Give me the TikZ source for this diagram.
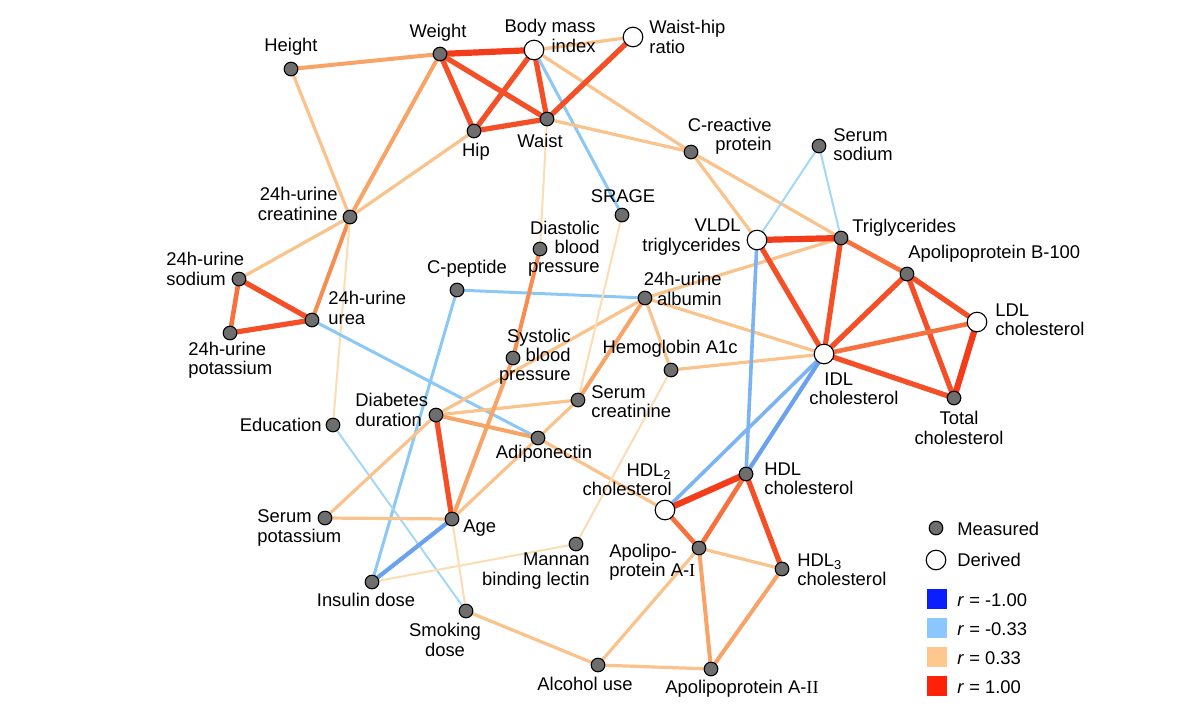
\documentclass[tikz,border=0pt]{standalone}
\usepackage{fontspec}
\setmainfont{Liberation Sans}
\newfontfamily\serifI{Liberation Serif}
\usetikzlibrary{backgrounds}
\definecolor{cRA}{HTML}{F33C1A}
\definecolor{cRB}{HTML}{F44F27}
\definecolor{cOR}{HTML}{F6713D}
\definecolor{cOO}{HTML}{F68E52}
\definecolor{cOM}{HTML}{F8A466}
\definecolor{cOL}{HTML}{FAC38C}
\definecolor{cOV}{HTML}{FCDCB2}
\definecolor{cBV}{HTML}{A4D8F6}
\definecolor{cBL}{HTML}{8CC8F6}
\definecolor{cBN}{HTML}{7CB4F2}
\definecolor{cBM}{HTML}{6AA2EE}
\definecolor{msgray}{HTML}{6E6E6E}
\definecolor{lgBlue}{HTML}{0A1EFF}
\definecolor{lgLBlue}{HTML}{8CC6FF}
\definecolor{lgLOr}{HTML}{FFC68E}
\definecolor{lgRed}{HTML}{FF2208}
\begin{document}
\begin{tikzpicture}[x=0.5pt,y=-0.5pt,
  meas/.style={circle,draw=black,fill=msgray,line width=0.55pt,minimum size=6.8pt,inner sep=0pt},
  deriv/.style={circle,draw=black,fill=white,line width=0.55pt,minimum size=9.8pt,inner sep=0pt},
  lab/.style={inner sep=0pt,font=\fontsize{9.2}{9.6}\selectfont},
  lgsq/.style={rectangle,minimum size=10pt,inner sep=0pt},
  eRA/.style={draw=cRA,line width=3.1pt},
  eRB/.style={draw=cRB,line width=2.6pt},
  eOR/.style={draw=cOR,line width=2.3pt},
  eOO/.style={draw=cOO,line width=2pt},
  eOM/.style={draw=cOM,line width=2pt},
  eOL/.style={draw=cOL,line width=1.6pt},
  eOV/.style={draw=cOV,line width=1pt},
  eBV/.style={draw=cBV,line width=1pt},
  eBL/.style={draw=cBL,line width=1.5pt},
  eBN/.style={draw=cBN,line width=1.8pt},
  eBM/.style={draw=cBM,line width=2.1pt}]
\useasboundingbox (0,0) rectangle (1200,709);
% nodes
\node[meas] (height) at (291,69) {};
\node[meas] (weight) at (440,54) {};
\node[deriv] (bmi) at (534,50) {};
\node[deriv] (whr) at (633,37) {};
\node[meas] (hip) at (474,131) {};
\node[meas] (waist) at (547,119) {};
\node[meas] (crp) at (691,152) {};
\node[meas] (ssod) at (819,146) {};
\node[meas] (srage) at (622,215) {};
\node[meas] (ucre) at (350,217) {};
\node[meas] (dbp) at (540,249) {};
\node[deriv] (vldl) at (757,240) {};
\node[meas] (tri) at (841,238) {};
\node[meas] (apob) at (907,274) {};
\node[meas] (usod) at (239,279) {};
\node[meas] (cpep) at (457,290) {};
\node[meas] (ualb) at (645,298) {};
\node[meas] (uurea) at (312,320) {};
\node[meas] (upot) at (230,333) {};
\node[deriv] (ldl) at (977,322) {};
\node[deriv] (idl) at (824,354) {};
\node[meas] (sbp) at (513,358) {};
\node[meas] (hba) at (671,370) {};
\node[meas] (screa) at (578,400) {};
\node[meas] (diab) at (436,415) {};
\node[meas] (educ) at (333,425) {};
\node[meas] (tchol) at (954,398) {};
\node[meas] (adipo) at (538,438) {};
\node[meas] (hdl) at (746,474) {};
\node[deriv] (hdltwo) at (665,510) {};
\node[meas] (spot) at (325,518) {};
\node[meas] (age) at (452,519) {};
\node[meas] (mbl) at (576,544) {};
\node[meas] (apoa) at (699,548) {};
\node[meas] (hdlthree) at (782,569) {};
\node[meas] (insul) at (372,582) {};
\node[meas] (smok) at (466,611) {};
\node[meas] (alc) at (598,665) {};
\node[meas] (apoaii) at (711,669) {};
% labels
\node[lab] (lheight) at (291,47) {Height};
\node[lab] (lweight) at (438,33) {Weight};
\node[lab,anchor=east,align=right] (lbmi) at (596,36) {Body mass\\index};
\node[lab,anchor=west,align=left] (lwhr) at (649,37) {Waist-hip\\ratio};
\node[lab] (lhip) at (476,152) {Hip};
\node[lab] (lwaist) at (540,141) {Waist};
\node[lab,anchor=east,align=right] (lcrp) at (772,136) {C-reactive\\protein};
\node[lab,anchor=west,align=left] (lssod) at (833,145) {Serum\\sodium};
\node[lab] (lsrage) at (623,196) {SRAGE};
\node[lab,anchor=east,align=right] (lucre) at (338,204) {24h-urine\\creatinine};
\node[lab,anchor=east,align=right] (ldbp) at (600,249) {Diastolic\\blood\\pressure};
\node[lab,anchor=east,align=right] (lvldl) at (741,237) {VLDL\\triglycerides};
\node[lab,anchor=west] (ltri) at (852,228) {Triglycerides};
\node[lab,anchor=west] (lapob) at (908,254) {Apolipoprotein B-100};
\node[lab,anchor=west,align=left] (lusod) at (166,269) {24h-urine\\sodium};
\node[lab] (lcpep) at (467,269) {C-peptide};
\node[lab,anchor=east,align=right] (lualb) at (722,289) {24h-urine\\albumin};
\node[lab,anchor=west,align=left] (luurea) at (328,308) {24h-urine\\urea};
\node[lab,anchor=west,align=left] (lupot) at (188,360) {24h-urine\\potassium};
\node[lab,anchor=west,align=left] (lldl) at (995,320) {LDL\\cholesterol};
\node[lab,anchor=west,align=left] (lidl) at (809,389) {\hspace*{7.5pt}IDL\\cholesterol};
\node[lab,anchor=east,align=right] (lsbp) at (571,357) {Systolic\\blood\\pressure};
\node[lab] (lhba) at (670,349) {Hemoglobin A1c};
\node[lab,anchor=west,align=left] (lscrea) at (591,402) {Serum\\creatinine};
\node[lab,anchor=west,align=left] (ldiab) at (355,410) {Diabetes\\duration};
\node[lab,anchor=east] (leduc) at (322,425) {Education};
\node[lab,align=center] (ltchol) at (959,428) {Total\\cholesterol};
\node[lab] (ladipo) at (544,454) {Adiponectin};
\node[lab,anchor=west,align=left] (lhdl) at (764,479) {HDL\\cholesterol};
\node[lab,anchor=east,align=right] (lhdltwo) at (672,480) {HDL\textsubscript{2}\\cholesterol};
\node[lab,anchor=west,align=left] (lspot) at (257,528) {Serum\\potassium};
\node[lab,anchor=west] (lage) at (463,528) {Age};
\node[lab,anchor=east,align=right] (lmbl) at (590,571) {Mannan\\binding lectin};
\node[lab,anchor=west,align=left] (lapoa) at (609,562) {Apolipo-\\protein A-{\serifI I}};
\node[lab,anchor=west,align=left] (lhdlthree) at (797,570) {HDL\textsubscript{3}\\cholesterol};
\node[lab] (linsul) at (366,600) {Insulin dose};
\node[lab,align=center] (lsmok) at (445,640) {Smoking\\dose};
\node[lab] (lalc) at (585,684) {Alcohol use};
\node[lab] (lapoaii) at (742,689) {Apolipoprotein A-{\serifI II}};
% legend
\node[meas] (lgm) at (936,528) {};
\node[lab,anchor=west] (lgmt) at (957,529) {Measured};
\node[deriv] (lgd) at (936,560) {};
\node[lab,anchor=west] (lgdt) at (957,560) {Derived};
\node[lgsq,fill=lgBlue] (lga) at (937,599) {};
\node[lab,anchor=west] (lgat) at (957,600) {\textit{r} = -1.00};
\node[lgsq,fill=lgLBlue] (lgb) at (937,628) {};
\node[lab,anchor=west] (lgbt) at (957,629) {\textit{r} = -0.33};
\node[lgsq,fill=lgLOr] (lgc) at (937,657) {};
\node[lab,anchor=west] (lgct) at (957,658) {\textit{r} = 0.33};
\node[lgsq,fill=lgRed] (lgdd) at (937,686) {};
\node[lab,anchor=west] (lgddt) at (957,687) {\textit{r} = 1.00};
% edges
\begin{pgfonlayer}{background}
\fill[white] (0,0) rectangle (1200,709);
\draw[eOM] (height.center) -- (weight.center);
\draw[eOL] (height.center) -- (ucre.center);
\draw[eOM] (weight.center) -- (ucre.center);
\draw[eOL] (hip.center) -- (ucre.center);
\draw[eRA] (weight.center) -- (bmi.center);
\draw[eRB] (weight.center) -- (hip.center);
\draw[eRB] (weight.center) -- (waist.center);
\draw[eRB] (bmi.center) -- (hip.center);
\draw[eRB] (bmi.center) -- (waist.center);
\draw[eOL] (bmi.center) -- (whr.center);
\draw[eBL] (bmi.center) -- (srage.center);
\draw[eOL] (bmi.center) -- (crp.center);
\draw[eRB] (waist.center) -- (hip.center);
\draw[eRB] (waist.center) -- (whr.center);
\draw[eOL] (waist.center) -- (crp.center);
\draw[eOV] (waist.center) -- (dbp.center);
\draw[eOL] (ucre.center) -- (usod.center);
\draw[eOO] (ucre.center) -- (uurea.center);
\draw[eOV] (ucre.center) -- (educ.center);
\draw[eRB] (usod.center) -- (uurea.center);
\draw[eOR] (usod.center) -- (upot.center);
\draw[eRB] (upot.center) -- (uurea.center);
\draw[eBL] (uurea.center) -- (adipo.center);
\draw[eBL] (cpep.center) -- (ualb.center);
\draw[eBL] (cpep.center) -- (insul.center);
\draw[eBV] (educ.center) -- (smok.center);
\draw[eOL] (diab.center) -- (ualb.center);
\draw[eOL] (diab.center) -- (screa.center);
\draw[eOM] (diab.center) -- (adipo.center);
\draw[eRB] (diab.center) -- (age.center);
\draw[eOL] (diab.center) -- (spot.center);
\draw[eOL] (age.center) -- (spot.center);
\draw[eBM] (age.center) -- (insul.center);
\draw[eOV] (age.center) -- (smok.center);
\draw[eOM] (age.center) -- (sbp.center);
\draw[eOL] (age.center) -- (adipo.center);
\draw[eOL] (adipo.center) -- (screa.center);
\draw[eOL] (adipo.center) -- (hdltwo.center);
\draw[eOO] (sbp.center) -- (dbp.center);
\draw[eOV] (srage.center) -- (screa.center);
\draw[eOM] (ualb.center) -- (screa.center);
\draw[eOL] (ualb.center) -- (tri.center);
\draw[eOL] (ualb.center) -- (idl.center);
\draw[eOL] (ualb.center) -- (hba.center);
\draw[eOL] (hba.center) -- (idl.center);
\draw[eOV] (hba.center) -- (mbl.center);
\draw[eOV] (mbl.center) -- (insul.center);
\draw[eOL] (crp.center) -- (vldl.center);
\draw[eOL] (crp.center) -- (tri.center);
\draw[eBV] (ssod.center) -- (vldl.center);
\draw[eBV] (ssod.center) -- (tri.center);
\draw[eRA] (vldl.center) -- (tri.center);
\draw[eRB] (vldl.center) -- (idl.center);
\draw[eBN] (vldl.center) -- (hdl.center);
\draw[eRB] (tri.center) -- (idl.center);
\draw[eOR] (tri.center) -- (apob.center);
\draw[eRB] (apob.center) -- (idl.center);
\draw[eRB] (apob.center) -- (ldl.center);
\draw[eRB] (apob.center) -- (tchol.center);
\draw[eOR] (ldl.center) -- (idl.center);
\draw[eRA] (ldl.center) -- (tchol.center);
\draw[eRB] (idl.center) -- (tchol.center);
\draw[eBN] (idl.center) -- (hdltwo.center);
\draw[eBM] (idl.center) -- (hdl.center);
\draw[eRA] (hdltwo.center) -- (hdl.center);
\draw[eOR] (hdltwo.center) -- (apoa.center);
\draw[eOR] (hdl.center) -- (apoa.center);
\draw[eRB] (hdl.center) -- (hdlthree.center);
\draw[eOL] (apoa.center) -- (hdlthree.center);
\draw[eOM] (apoa.center) -- (apoaii.center);
\draw[eOL] (apoa.center) -- (alc.center);
\draw[eOM] (hdlthree.center) -- (apoaii.center);
\draw[eOL] (alc.center) -- (apoaii.center);
\draw[eOL] (smok.center) -- (alc.center);
\end{pgfonlayer}
\end{tikzpicture}
\end{document}
